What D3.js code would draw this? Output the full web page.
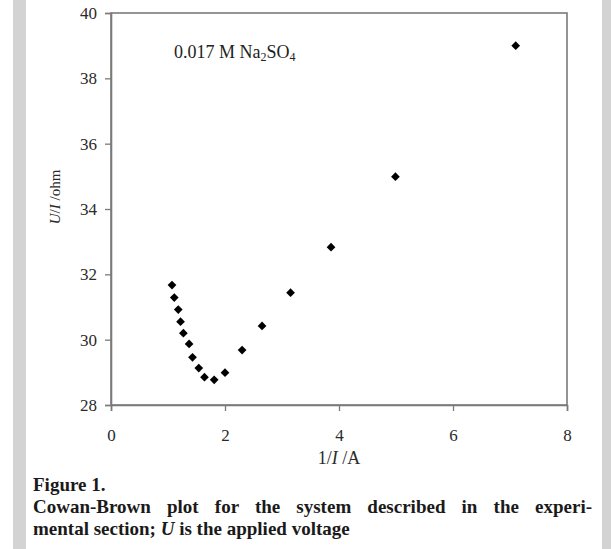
<!DOCTYPE html>
<html>
<head>
<meta charset="utf-8">
<script src="https://cdn.jsdelivr.net/npm/d3@7"></script>
<style>
  body { margin: 0; background: #fff; }
  svg { display: block; }
</style>
</head>
<body>
<svg id="chart"></svg>
<script>
// data
const invCurrent = [1.07, 1.11, 1.18, 1.22, 1.27, 1.37, 1.43, 1.54, 1.64, 1.81, 2.0, 2.3, 2.65, 3.15, 3.86, 4.99, 7.1];
const resistance = [31.67, 31.29, 30.92, 30.55, 30.2, 29.87, 29.46, 29.13, 28.85, 28.77, 28.99, 29.68, 30.42, 31.44, 32.83, 34.99, 39.0];
const xTicks = [0, 2, 4, 6, 8];
const yTicks = [28, 30, 32, 34, 36, 38, 40];
const captionLines = [
  "Cowan-Brown plot for the system described in the experi-",
  "mental section; "
];

const W = 611, H = 549;
const margin = {top: 13, right: 44, bottom: 144, left: 111};
const width = W - margin.left - margin.right;
const height = H - margin.top - margin.bottom;

const svg = d3.select('#chart').attr('width', W).attr('height', H);

// grey page bands either side
svg.append('rect').attr('x', 13).attr('y', 0).attr('width', 13).attr('height', H).attr('fill', '#d3d3d3');
svg.append('rect').attr('x', 602).attr('y', 0).attr('width', 9).attr('height', H).attr('fill', '#d3d3d3');

const g = svg.append('g').attr('transform', `translate(${margin.left},${margin.top})`);

const x = d3.scaleLinear().domain([0, 8]).range([0, width]);
const y = d3.scaleLinear().domain([28, 40]).range([height, 0]);

const serif = '"Liberation Serif", "Times New Roman", serif';

// plot frame
g.append('rect')
  .attr('width', width).attr('height', height)
  .attr('fill', 'none').attr('stroke', '#7a7a7a').attr('stroke-width', 1.6);

const xAxis = g.append('g')
  .attr('transform', `translate(0,${height})`)
  .call(d3.axisBottom(x).tickValues(xTicks).tickSize(6).tickPadding(18).tickFormat(d3.format('d')));
const yAxis = g.append('g')
  .call(d3.axisLeft(y).tickValues(yTicks).tickSize(6).tickPadding(8).tickFormat(d3.format('d')));

[xAxis, yAxis].forEach(a => {
  a.attr('font-family', serif).attr('font-size', 17);
  a.select('.domain').attr('stroke', '#7a7a7a').attr('stroke-width', 1.6);
  a.selectAll('.tick line').attr('stroke', '#7a7a7a').attr('stroke-width', 1.3);
  a.selectAll('.tick text')
    .style('font-family', serif).style('font-size', '17px').attr('fill', '#2a2a2a');
});

// points
const marker = d3.symbol().type(d3.symbolSquare).size(38);
g.selectAll('.pt')
  .data(invCurrent.map((v, i) => [v, resistance[i]]))
  .join('path')
  .attr('class', 'pt')
  .attr('d', marker)
  .attr('fill', '#000')
  .attr('transform', d => `translate(${x(d[0])},${y(d[1])}) rotate(45)`);

// in-plot label
const lab = g.append('text')
  .attr('x', 63).attr('y', 45)
  .attr('font-family', serif).attr('font-size', 18).attr('fill', '#222');
lab.append('tspan').text('0.017 M Na');
lab.append('tspan').attr('font-size', 12).attr('dy', 3).text('2');
lab.append('tspan').attr('dy', -3).text('SO');
lab.append('tspan').attr('font-size', 12).attr('dy', 3).text('4');

// axis titles
const xt = svg.append('text')
  .attr('x', margin.left + x(4)).attr('y', 464)
  .attr('text-anchor', 'middle')
  .attr('font-family', serif).attr('font-size', 18).attr('fill', '#2a2a2a');
xt.append('tspan').text('1/');
xt.append('tspan').attr('font-style', 'italic').text('I');
xt.append('tspan').text(' /A');

const yt = svg.append('text')
  .attr('transform', 'translate(60,197) rotate(-90)')
  .attr('text-anchor', 'middle')
  .attr('font-family', serif).attr('font-size', 15).attr('fill', '#2a2a2a');
yt.append('tspan').attr('font-style', 'italic').text('U');
yt.append('tspan').text('/');
yt.append('tspan').attr('font-style', 'italic').text('I');
yt.append('tspan').text(' /ohm');

// caption
const capStyle = t => t.attr('font-family', serif).attr('font-size', 19)
  .attr('font-weight', 'bold').attr('fill', '#1a1a1a');

svg.append('text').attr('x', 33).attr('y', 491).call(capStyle).text('Figure 1.');

const line2 = svg.append('text').attr('x', 33).attr('y', 513).call(capStyle).text(captionLines[0]);
// justify the second line to the column width
const natural = line2.node().getComputedTextLength();
const spaces = captionLines[0].split(' ').length - 1;
line2.attr('word-spacing', (592 - 33 - natural) / spaces);

const line3 = svg.append('text').attr('x', 33).attr('y', 535).call(capStyle);
line3.append('tspan').text(captionLines[1]);
line3.append('tspan').attr('font-style', 'italic').text('U');
line3.append('tspan').text(' is the applied voltage');
</script>
</body>
</html>
